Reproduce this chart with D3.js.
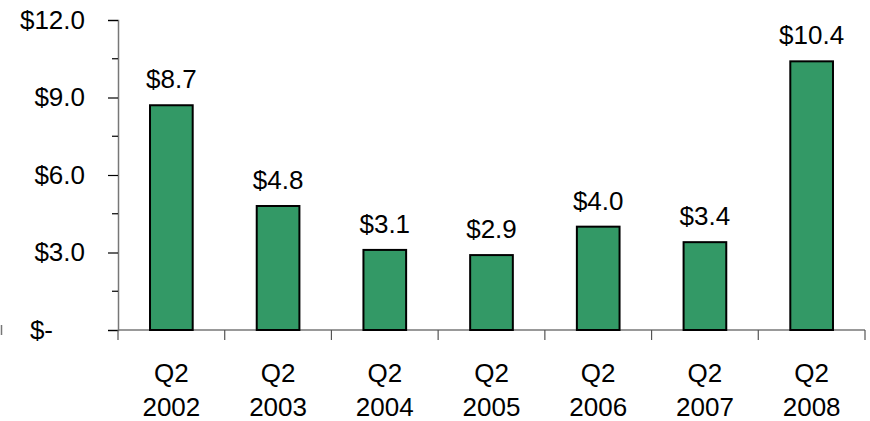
<!DOCTYPE html>
<html>
<head>
<meta charset="utf-8">
<script src="https://cdn.jsdelivr.net/npm/d3@7"></script>
<style>
  body { margin: 0; background: #fff; }
  svg { display: block; font-family: "Liberation Sans", Arial, sans-serif; }
</style>
</head>
<body>
<svg id="chart" width="870" height="421"></svg>
<script>
// chart data
const quarters = ["Q2", "Q2", "Q2", "Q2", "Q2", "Q2", "Q2"];
const years = ["2002", "2003", "2004", "2005", "2006", "2007", "2008"];
const values = [8.7, 4.8, 3.1, 2.9, 4.0, 3.4, 10.4];
const majorTicks = [0, 3, 6, 9, 12];
const minorTicks = [1.5, 4.5, 7.5, 10.5];

const width = 870;
const height = 421;
const margin = { top: 20, right: 5, bottom: 91, left: 118 };
const fontSize = 26;

const svg = d3.select("#chart");

const x = d3.scaleBand()
  .domain(years)
  .range([margin.left, width - margin.right])
  .paddingInner(0.6)
  .paddingOuter(0.3);

// band step for category tick marks
const step = (width - margin.right - margin.left) / years.length;

const y = d3.scaleLinear()
  .domain([0, 12])
  .range([height - margin.bottom, margin.top]);

const fmt = d => d === 0 ? "$-" : "$" + d.toFixed(1);

// y axis
const yAxis = svg.append("g")
  .attr("transform", `translate(${margin.left},0)`)
  .call(d3.axisLeft(y).tickValues(majorTicks).tickSize(10).tickPadding(23).tickFormat(fmt));
yAxis.select(".domain").attr("stroke", "#777").attr("stroke-width", 1.5);
yAxis.selectAll(".tick line").attr("stroke", "#000").attr("stroke-width", 1.2);
yAxis.selectAll(".tick text")
  .attr("font-size", fontSize)
  .attr("fill", "#000")
  .attr("dx", d => d === 0 ? -32 : 0);

svg.append("g")
  .attr("transform", `translate(${margin.left},0)`)
  .selectAll("line")
  .data(minorTicks)
  .join("line")
  .attr("x1", -6).attr("x2", 0)
  .attr("y1", d => y(d)).attr("y2", d => y(d))
  .attr("stroke", "#000").attr("stroke-width", 1.2);

// x axis baseline and category ticks
const base = y(0);
svg.append("line")
  .attr("x1", margin.left).attr("x2", width - margin.right)
  .attr("y1", base).attr("y2", base)
  .attr("stroke", "#777").attr("stroke-width", 1.5);

svg.append("g")
  .selectAll("line")
  .data(d3.range(years.length + 1))
  .join("line")
  .attr("x1", i => margin.left + i * step)
  .attr("x2", i => margin.left + i * step)
  .attr("y1", base).attr("y2", base + 10)
  .attr("stroke", "#555").attr("stroke-width", 1.2);

// bars
svg.append("g")
  .selectAll("rect")
  .data(values)
  .join("rect")
  .attr("x", (d, i) => x(years[i]))
  .attr("y", d => y(d))
  .attr("width", x.bandwidth())
  .attr("height", d => base - y(d))
  .attr("fill", "#339966")
  .attr("stroke", "#000")
  .attr("stroke-width", 2);

// value labels
svg.append("g")
  .selectAll("text")
  .data(values)
  .join("text")
  .attr("x", (d, i) => x(years[i]) + x.bandwidth() / 2)
  .attr("y", d => y(d) - 17)
  .attr("text-anchor", "middle")
  .attr("font-size", fontSize)
  .text(d => "$" + d.toFixed(1));

// category labels
const cat = svg.append("g")
  .selectAll("text")
  .data(years)
  .join("text")
  .attr("text-anchor", "middle")
  .attr("font-size", fontSize);
cat.append("tspan").attr("x", d => x(d) + x.bandwidth() / 2).attr("y", 382).text((d, i) => quarters[i]);
cat.append("tspan").attr("x", d => x(d) + x.bandwidth() / 2).attr("y", 416).text(d => d);

// small stray mark at the left edge
svg.append("line")
  .attr("x1", 1.5).attr("x2", 1.5)
  .attr("y1", base - 5).attr("y2", base + 5)
  .attr("stroke", "#777").attr("stroke-width", 1.5);
</script>
</body>
</html>
